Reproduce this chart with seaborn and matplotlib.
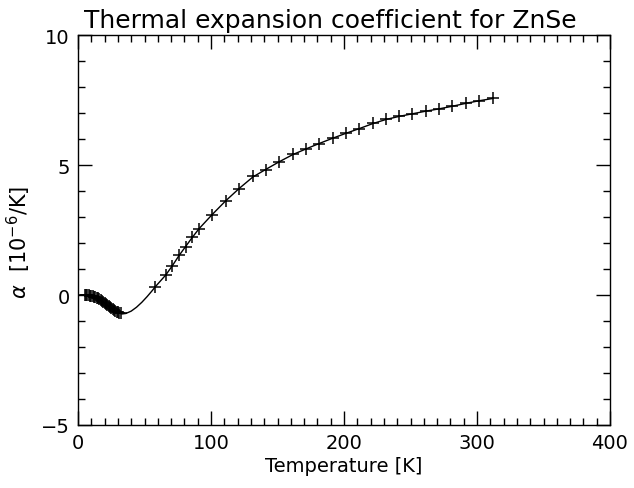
import matplotlib
matplotlib.use("Agg")
import matplotlib.pyplot as plt
import seaborn as sns
import pandas as pd

# measured points (T in K, alpha in 1e-6/K)
temp_pts = [5, 6, 7, 8, 9, 10, 11, 12, 13, 14, 15, 16, 17, 18, 19, 20, 21, 22,
            23, 24, 25, 26, 27, 28, 29, 30, 31, 32,
            58, 66, 71, 76, 81, 86, 91,
            101, 111, 121, 131.5, 141.5, 151.5, 161.5, 171.5, 181.5, 191.5,
            201.5, 211.5, 221.5, 231.5, 241.5, 251.5, 261.5, 271.5, 281.5,
            291.5, 301.5, 312]
alpha_pts = [0.0, 0.0, -0.01, -0.01, -0.02, -0.03, -0.04, -0.06, -0.08, -0.10,
             -0.13, -0.16, -0.19, -0.23, -0.27, -0.31, -0.35, -0.39, -0.43,
             -0.47, -0.51, -0.55, -0.58, -0.62, -0.65, -0.67, -0.69, -0.71,
             0.31, 0.77, 1.13, 1.55, 1.86, 2.24, 2.53,
             3.08, 3.63, 4.08, 4.56, 4.82, 5.13, 5.42, 5.62, 5.81, 6.03,
             6.22, 6.38, 6.60, 6.77, 6.87, 6.96, 7.07, 7.15, 7.26,
             7.38, 7.47, 7.56]

# fitted curve
fit_T = [5, 10, 15, 20, 25, 30, 33, 36, 40, 44, 48, 52, 56, 58, 62, 66, 71,
         76, 81, 86, 91, 101, 111, 121, 131.5, 141.5, 151.5, 161.5, 171.5,
         181.5, 191.5, 201.5, 211.5, 221.5, 231.5, 241.5, 251.5, 261.5, 271.5,
         281.5, 291.5, 301.5, 312]
fit_alpha = [0.0, -0.03, -0.13, -0.31, -0.51, -0.67, -0.73, -0.71, -0.62,
             -0.47, -0.28, -0.06, 0.18, 0.31, 0.54, 0.77, 1.13, 1.52, 1.87,
             2.22, 2.55, 3.10, 3.62, 4.09, 4.54, 4.84, 5.13, 5.40, 5.62, 5.83,
             6.03, 6.22, 6.40, 6.59, 6.75, 6.87, 6.97, 7.07, 7.16, 7.26, 7.37,
             7.47, 7.56]

# axis ticks
x_major = [0, 100, 200, 300, 400]
x_minor = list(range(10, 400, 10))
y_major = [-5, 0, 5, 10]
y_minor = list(range(-4, 10))

pts = pd.DataFrame({"T": temp_pts, "alpha": alpha_pts})
fit = pd.DataFrame({"T": fit_T, "alpha": fit_alpha})

sns.set_theme(style="ticks", rc={
    "xtick.direction": "in", "ytick.direction": "in",
    "xtick.top": True, "ytick.right": True,
    "xtick.minor.visible": True, "ytick.minor.visible": True,
    "xtick.minor.top": True, "xtick.minor.bottom": True,
    "ytick.minor.left": True, "ytick.minor.right": True,
    "xtick.minor.size": 5, "ytick.minor.size": 5,
    "xtick.minor.width": 1.0, "ytick.minor.width": 1.0,
    "xtick.major.size": 10, "ytick.major.size": 10,
    "axes.edgecolor": "black", "axes.linewidth": 1.0,
    "text.color": "black", "axes.labelcolor": "black",
    "xtick.color": "black", "ytick.color": "black",
})
plt.rcParams["font.family"] = ["DejaVu Sans"]

fig = plt.figure(figsize=(6.34, 4.89), dpi=100)
ax = fig.add_axes([78 / 634, 1 - 426 / 489, (610 - 78) / 634, (426 - 36) / 489])

sns.lineplot(data=fit, x="T", y="alpha", ax=ax, color="black", linewidth=1.0,
             sort=False, estimator=None)
sns.scatterplot(data=pts, x="T", y="alpha", ax=ax, marker="+", color="black",
                s=70, linewidth=1.1, zorder=3)

ax.set_xlim(0, 400)
ax.set_ylim(-5, 10)
ax.set_xticks(x_major)
ax.set_xticks(x_minor, minor=True)
ax.set_yticks(y_major)
ax.set_yticks(y_minor, minor=True)
ax.tick_params(axis="both", which="both", direction="in", top=True,
               bottom=True, left=True, right=True, color="black")
ax.tick_params(axis="both", which="minor", length=5, width=1.0)
ax.tick_params(axis="both", which="major", length=10, width=1.0, pad=6,
               labelsize=14)

ax.set_xlabel("Temperature [K]", fontsize=14, color="black", labelpad=3)
ax.set_ylabel(r"$\alpha$  [10$^{-6}$/K]", fontsize=15, color="black")
ax.yaxis.set_label_coords(-0.085, 0.47)
ax.set_title("Thermal expansion coefficient for ZnSe", fontsize=18, pad=6,
             color="black", x=0.475)

fig.savefig("out.png", dpi=100, facecolor="white")
